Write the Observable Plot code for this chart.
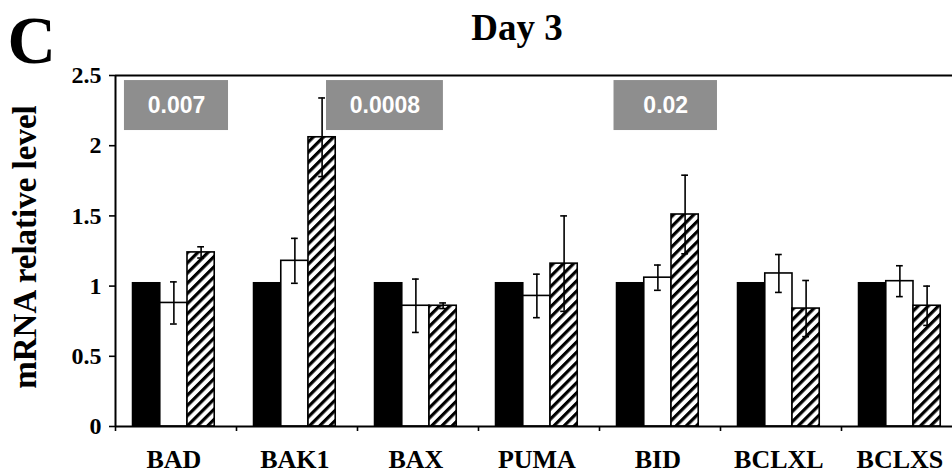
<!DOCTYPE html>
<html>
<head>
<meta charset="utf-8">
<script src="https://cdn.jsdelivr.net/npm/d3@7"></script>
<script src="https://cdn.jsdelivr.net/npm/@observablehq/plot@0.6"></script>
<style>
  html, body { margin: 0; padding: 0; background: #fff; overflow: hidden; }
  #chart { width: 952px; height: 475px; overflow: hidden; }
</style>
</head>
<body>
<div id="chart"></div>
<script>
// ---- data ----
const genes = ["BAD", "BAK1", "BAX", "PUMA", "BID", "BCLXL", "BCLXS"];
const controlValues = [1.02, 1.02, 1.02, 1.02, 1.02, 1.02, 1.02];
const treatAValues = [0.88, 1.18, 0.86, 0.93, 1.06, 1.09, 1.035];
const treatAErrors = [0.15, 0.16, 0.19, 0.155, 0.09, 0.135, 0.11];
const treatBValues = [1.24, 2.06, 0.86, 1.16, 1.51, 0.84, 0.86];
const treatBErrors = [0.04, 0.28, 0.02, 0.34, 0.28, 0.20, 0.14];
const yTicks = [0, 0.5, 1, 1.5, 2, 2.5];
const pLabels = ["0.007", "0.0008", "0.02"];
const titleText = "Day 3";
const panelLetter = "C";
const yLabel = "mRNA relative level";

// ---- layout (group units: each gene occupies [i, i+1]) ----
const BAR_START = 0.145, BAR_W = 0.225, CAP = 0.028;
const pBoxX1 = [0.074, 1.744, 4.12];
const pBoxX2 = [0.934, 2.71, 4.975];
const pBoxY1 = 2.108, pBoxY2 = 2.464;

const series = [
  {key: "control", values: controlValues, errors: null, fill: "black"},
  {key: "treatA", values: treatAValues, errors: treatAErrors, fill: "white"},
  {key: "treatB", values: treatBValues, errors: treatBErrors, fill: "url(#hatch)"}
];

const bars = genes.flatMap((g, i) => series.map((s, k) => {
  const x1 = i + BAR_START + k * BAR_W;
  return {gene: g, series: s.key, x1, x2: x1 + BAR_W, cx: x1 + BAR_W / 2,
          value: s.values[i], err: s.errors ? s.errors[i] : null, fill: s.fill};
}));
const errs = bars.filter(d => d.err != null);
const caps = errs.flatMap(d => [{...d, y: d.value - d.err}, {...d, y: d.value + d.err}]);
const labels = genes.map((g, i) => ({gene: g, x: i + BAR_START + 1.5 * BAR_W}));
const boxes = pLabels.map((t, j) => ({text: t, x1: pBoxX1[j], x2: pBoxX2[j]}));

const serif = "'Liberation Serif', 'Times New Roman', serif";

const chart = Plot.plot({
  width: 952,
  height: 475,
  marginTop: 75,
  marginBottom: 49,
  marginLeft: 115,
  marginRight: 0,
  style: {fontFamily: serif, background: "white", overflow: "hidden"},
  x: {domain: [0, 7], range: [115, 962], axis: null},
  y: {domain: [0, 2.5], axis: null},
  marks: [
    // annotation boxes
    Plot.rect(boxes, {x1: "x1", x2: "x2", y1: pBoxY1, y2: pBoxY2, fill: "#8e8e8e"}),
    Plot.text(boxes, {x: d => (d.x1 + d.x2) / 2, y: (pBoxY1 + pBoxY2) / 2, text: "text",
      fill: "white", fontSize: 23, fontWeight: "bold",
      fontFamily: "'Liberation Sans', Arial, sans-serif"}),
    // bars
    Plot.rect(bars, {x1: "x1", x2: "x2", y1: 0, y2: "value", fill: "fill",
      stroke: "black", strokeWidth: 1.6}),
    // error bars
    Plot.ruleX(errs, {x: "cx", y1: d => d.value - d.err, y2: d => d.value + d.err,
      stroke: "black", strokeWidth: 1.6}),
    Plot.ruleY(caps, {y: "y", x1: d => d.cx - CAP, x2: d => d.cx + CAP,
      stroke: "black", strokeWidth: 1.6}),
    // axes frame lines
    Plot.ruleY([2.5], {x1: 0, x2: 7, stroke: "black", strokeWidth: 2}),
    Plot.ruleY([0], {x1: 0, x2: 7, stroke: "black", strokeWidth: 2}),
    Plot.ruleX([0], {y1: 0, y2: 2.5, stroke: "black", strokeWidth: 2}),
    Plot.axisY(yTicks, {tickSize: 6, tickFormat: () => "", stroke: "black",
      strokeWidth: 1.6, label: null}),
    Plot.text(yTicks, {x: 0, y: d => d, text: d => String(d), dx: -14, textAnchor: "end",
      fontSize: 24, fontWeight: "bold", fill: "black"}),
    Plot.axisX(d3.range(8), {tickSize: 5, tickFormat: () => "", stroke: "black",
      strokeWidth: 1.6, label: null}),
    // gene labels
    Plot.text(labels, {x: "x", y: 0, text: "gene", dy: 33, fontSize: 26,
      fontWeight: "bold", fill: "black"}),
    // y label
    Plot.text([yLabel], {frameAnchor: "left", textAnchor: "middle", dx: -90, dy: -4, rotate: -90,
      fontSize: 33, fontWeight: "bold", fill: "black"}),
    // title and panel letter
    Plot.text([titleText], {frameAnchor: "top", textAnchor: "middle", dx: -17, dy: -36, lineAnchor: "bottom",
      fontSize: 37, fontWeight: "bold", fill: "black"}),
    Plot.text([panelLetter], {frameAnchor: "top-left", dx: -108, dy: -13, lineAnchor: "bottom",
      textAnchor: "start", fontSize: 67, fontWeight: "bold", fill: "black"})
  ]
});

// hatch pattern for the third series
const ns = "http://www.w3.org/2000/svg";
const defs = document.createElementNS(ns, "defs");
defs.innerHTML = `<pattern id="hatch" patternUnits="userSpaceOnUse" width="7.2" height="7.2" patternTransform="rotate(-45)">
  <rect width="7.2" height="7.2" fill="white"/>
  <rect width="7.2" height="3.2" fill="black"/>
</pattern>`;
chart.insertBefore(defs, chart.firstChild);

document.getElementById("chart").appendChild(chart);
</script>
</body>
</html>
